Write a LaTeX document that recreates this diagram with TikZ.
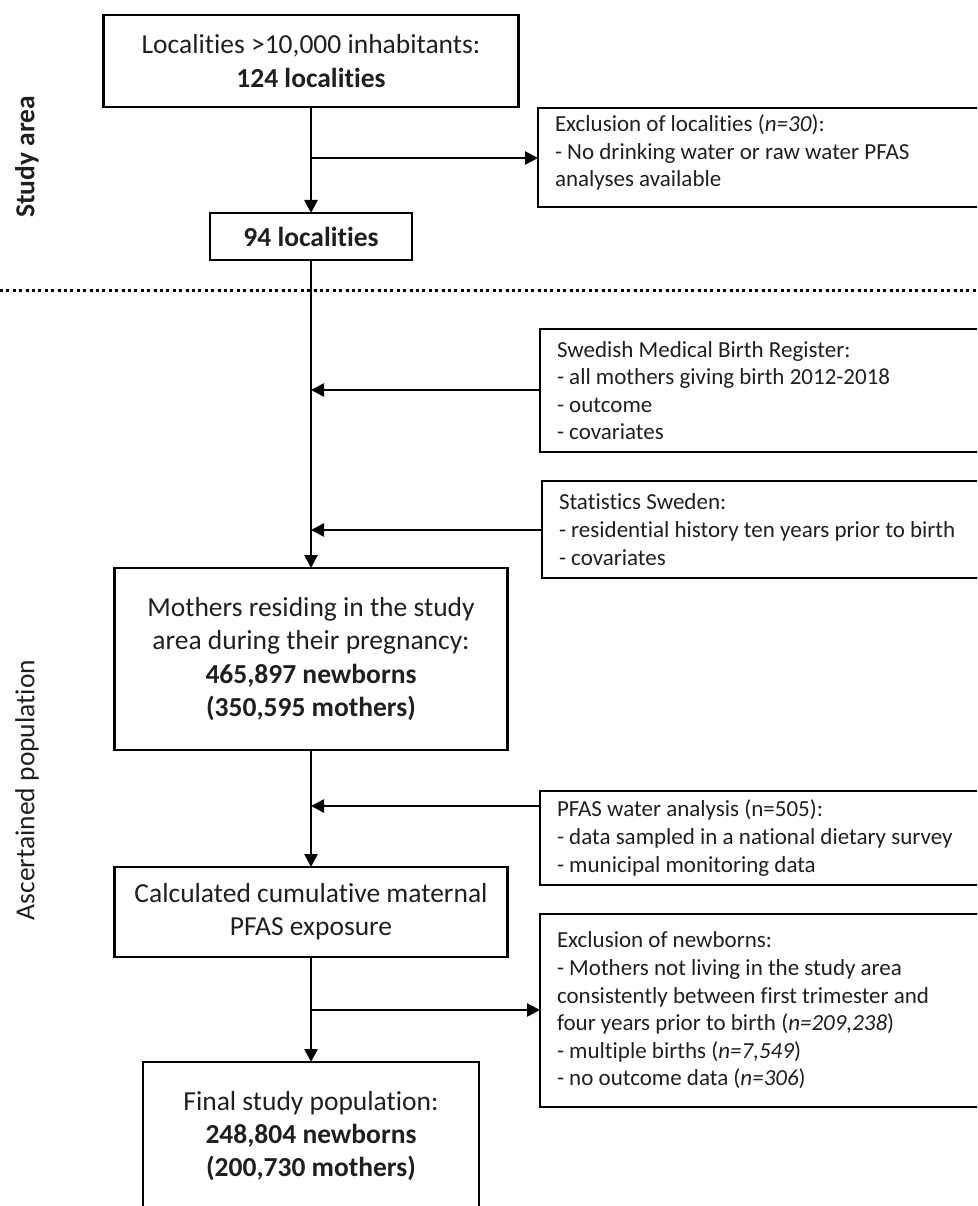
\documentclass[tikz,border=0pt]{standalone}
\usepackage{fontspec}
\setmainfont{Carlito}[Ligatures={NoCommon}]
\usetikzlibrary{arrows.meta}
\begin{document}
\begin{tikzpicture}[x=1pt,y=-1pt,
  every node/.style={inner sep=0pt, outer sep=0pt, text=black!88},
  mainbox/.style={draw=black, line width=2.8pt, align=flush center, font=\fontsize{27.5}{33.3}\selectfont},
  maintext/.style={align=flush center, font=\fontsize{27.5}{33.3}\selectfont},
  sidebox/.style={draw=black, line width=2.8pt, anchor=west, align=flush left, text width=440pt, inner xsep=17pt, font=\fontsize{23}{27.6}\selectfont},
  sidetext/.style={anchor=west, align=flush left, text width=440pt, font=\fontsize{23}{27.6}\selectfont},
  flow/.style={line width=2.6pt, -{Triangle[length=13pt,width=13pt]}},
  seclabel/.style={rotate=90, font=\fontsize{27.5}{33}\selectfont},
  dotline/.style={line width=3pt, dash pattern=on 3pt off 3.4pt}]
\useasboundingbox (0,0) rectangle (977,1206);
\clip (0,0) rectangle (977,1206);

% section labels
\node[seclabel] (lsa) at (27,157) {\bfseries Study area};
\node[seclabel] (lap) at (27,790) {Ascertained population};

% separator
\coordinate (dl) at (0,290);
\coordinate (dr) at (977,290);
\draw[dotline] (dl) -- (dr);

% main column
\node[mainbox, minimum width=415pt, minimum height=92pt] (loc) at (311,61)
  {Localities >10,000 inhabitants:\\ \textbf{124 localities}};
\node[mainbox, minimum width=202pt, minimum height=47pt] (l94) at (311,236.5)
  {\textbf{94 localities}};
\node[mainbox, minimum width=393pt, minimum height=182pt] (moth) at (311,659)
  {Mothers residing in the study\\ area during their pregnancy:\\ \textbf{465,897 newborns}\\ \textbf{(350,595 mothers)}};
\node[mainbox, minimum width=393pt, minimum height=90pt] (calc) at (311,912)
  {Calculated cumulative maternal\\ PFAS exposure};
\node[mainbox, minimum width=336pt, minimum height=260pt, anchor=north] (final) at (311,1062) {};
\node[maintext] (finaltxt) at (311,1136)
  {Final study population:\\ \textbf{248,804 newborns}\\ \textbf{(200,730 mothers)}};

% side boxes
\node[sidebox, minimum height=99pt] (ex1) at (538,157.5) {};
\node[sidetext] (ex1txt) at (555,152.5)
  {Exclusion of localities (\textit{n=30}):\\- No drinking water or raw water PFAS\\analyses available};
\node[sidebox, minimum height=123pt] (mbr) at (540,390.5)
  {Swedish Medical Birth Register:\\- all mothers giving birth 2012-2018\\- outcome\\- covariates};
\node[sidebox, minimum height=97pt] (scb) at (542,529.5)
  {Statistics Sweden:\\- residential history ten years prior to birth\\- covariates};
\node[sidebox, minimum height=94pt] (pfas) at (540,838)
  {PFAS water analysis (n=505):\\- data sampled in a national dietary survey\\- municipal monitoring data};
\node[sidebox, minimum height=193pt] (ex2) at (540,1010.5)
  {Exclusion of newborns:\\- Mothers not living in the study area\\consistently between first trimester and\\four years prior to birth (\textit{n=209,238})\\- multiple births (\textit{n=7,549})\\- no outcome data (\textit{n=306})};

% junctions on the main line
\coordinate (j1) at (311,158);
\coordinate (j2) at (311,390);
\coordinate (j3) at (311,530);
\coordinate (j4) at (311,806);
\coordinate (j5) at (311,1010);

% connectors
\draw[flow] (loc.south) -- (l94.north);
\draw[flow] (j1) -- (j1 -| ex1.west);
\draw[flow] (l94.south) -- (moth.north);
\draw[flow] (j2 -| mbr.west) -- (j2);
\draw[flow] (j3 -| scb.west) -- (j3);
\draw[flow] (moth.south) -- (calc.north);
\draw[flow] (j4 -| pfas.west) -- (j4);
\draw[flow] (calc.south) -- (final.north);
\draw[flow] (j5) -- (j5 -| ex2.west);
\end{tikzpicture}
\end{document}
